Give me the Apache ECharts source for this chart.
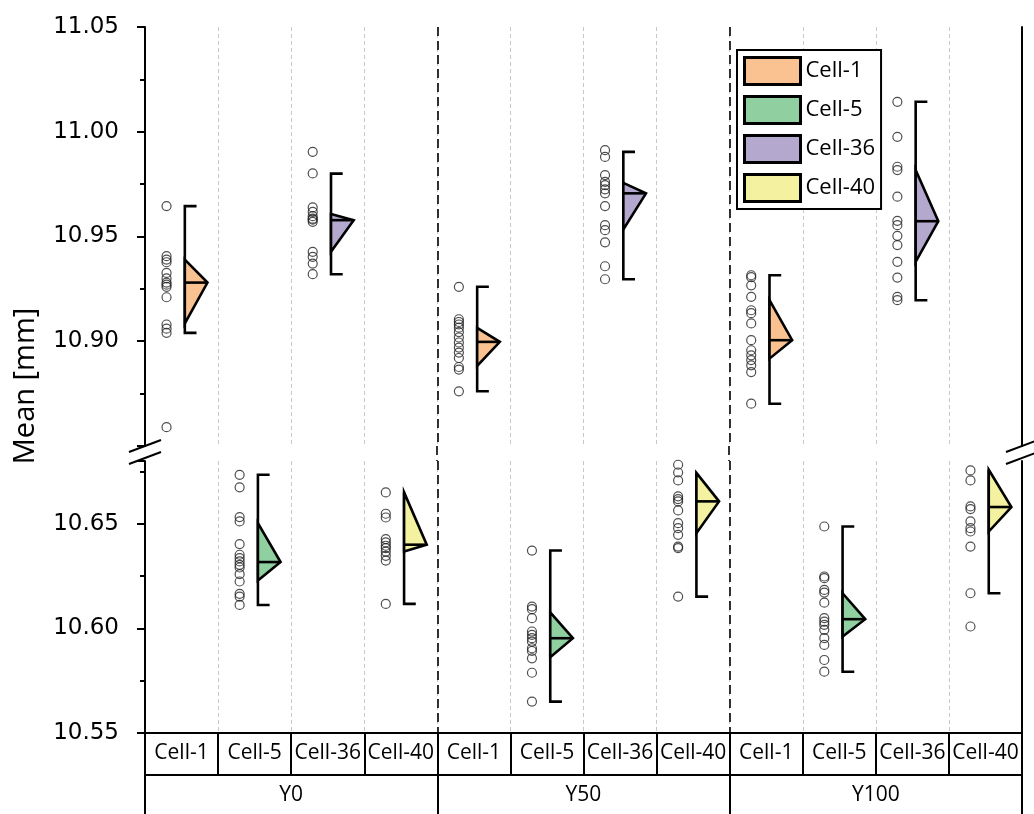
<!DOCTYPE html>
<html>
<head>
<meta charset="utf-8">
<title>Mean [mm]</title>
<script src="https://cdn.jsdelivr.net/npm/echarts@6.0.0/dist/echarts.min.js"></script>
<style>
    html, body { margin: 0; padding: 0; background: #fff; }
    #mean_chart { width: 1034px; height: 814px; }
</style>
</head>
<body>
<div id="mean_chart"></div>
<script>
// 分组 / 电芯
var groups = [ 'Y0', 'Y50', 'Y100' ];
var cells = [ 'Cell-1', 'Cell-5', 'Cell-36', 'Cell-40' ];
var categories = [ 'Cell-1', 'Cell-5', 'Cell-36', 'Cell-40', 'Cell-1', 'Cell-5', 'Cell-36', 'Cell-40', 'Cell-1', 'Cell-5', 'Cell-36', 'Cell-40' ];
var cellColors = [ '#FAC291', '#8FCFA0', '#B5A8CF', '#F4F1A0' ];

// 各次测量值 (Y0, Y50, Y100)
var cell1Points = [
    [ 10.9645, 10.9406, 10.9390, 10.9377, 10.9326, 10.9300, 10.9280, 10.9270, 10.9260, 10.9210, 10.9080, 10.9060, 10.9040, 10.8590 ],
    [ 10.9260, 10.9105, 10.9092, 10.9080, 10.9065, 10.9044, 10.9018, 10.8994, 10.8970, 10.8946, 10.8920, 10.8877, 10.8865, 10.8761 ],
    [ 10.9315, 10.9306, 10.9267, 10.9212, 10.9148, 10.9134, 10.9085, 10.9005, 10.8957, 10.8933, 10.8910, 10.8885, 10.8853, 10.8702 ]
];
var cell5Points = [
    [ 10.6734, 10.6674, 10.6532, 10.6511, 10.6403, 10.6352, 10.6336, 10.6320, 10.6304, 10.6291, 10.6259, 10.6224, 10.6165, 10.6152, 10.6112 ],
    [ 10.6372, 10.6104, 10.6092, 10.6049, 10.5985, 10.5969, 10.5953, 10.5937, 10.5905, 10.5892, 10.5857, 10.5788, 10.5650 ],
    [ 10.6487, 10.6248, 10.6240, 10.6184, 10.6171, 10.6123, 10.6049, 10.6032, 10.6017, 10.5993, 10.5953, 10.5921, 10.5849, 10.5793 ]
];
var cell36Points = [
    [ 10.9904, 10.9801, 10.9639, 10.9618, 10.9597, 10.9585, 10.9581, 10.9570, 10.9427, 10.9403, 10.9371, 10.9320 ],
    [ 10.9912, 10.9880, 10.9793, 10.9761, 10.9745, 10.9725, 10.9706, 10.9645, 10.9554, 10.9530, 10.9472, 10.9358, 10.9296 ],
    [ 11.0143, 10.9976, 10.9833, 10.9817, 10.9690, 10.9575, 10.9554, 10.9503, 10.9459, 10.9379, 10.9304, 10.9212, 10.9196 ]
];
var cell40Points = [
    [ 10.6650, 10.6548, 10.6530, 10.6427, 10.6411, 10.6395, 10.6384, 10.6367, 10.6347, 10.6324, 10.6117 ],
    [ 10.6782, 10.6745, 10.6707, 10.6631, 10.6618, 10.6607, 10.6564, 10.6503, 10.6479, 10.6447, 10.6391, 10.6384, 10.6152 ],
    [ 10.6755, 10.6707, 10.6583, 10.6570, 10.6511, 10.6479, 10.6463, 10.6391, 10.6168, 10.6009 ]
];

// 须线下限, 下边, 中线, 上边, 须线上限
var cell1Box = [
    [ 10.9040, 10.9085, 10.9280, 10.9390, 10.9645 ],
    [ 10.8761, 10.8882, 10.8997, 10.9064, 10.9260 ],
    [ 10.8702, 10.8917, 10.9005, 10.9196, 10.9315 ]
];
var cell5Box = [
    [ 10.6112, 10.6229, 10.6317, 10.6503, 10.6734 ],
    [ 10.5650, 10.5862, 10.5953, 10.6077, 10.6372 ],
    [ 10.5793, 10.5961, 10.6044, 10.6168, 10.6487 ]
];
var cell36Box = [
    [ 10.9320, 10.9427, 10.9578, 10.9607, 10.9800 ],
    [ 10.9296, 10.9534, 10.9706, 10.9756, 10.9904 ],
    [ 10.9196, 10.9379, 10.9573, 10.9817, 11.0143 ]
];
var cell40Box = [
    [ 10.6117, 10.6367, 10.6400, 10.6650, 10.6650 ],
    [ 10.6152, 10.6455, 10.6607, 10.6743, 10.6743 ],
    [ 10.6168, 10.6463, 10.6580, 10.6758, 10.6758 ]
];

// 简单的对象合并
var $ = {
    extend : function(a, b) {
        var o = {};
        for (var k in a) { o[k] = a[k]; }
        for (var j in b) { o[j] = b[j]; }
        return o;
    }
};

var mean_chart = {
    chart : null,
    /**
     * 页面初始化
     */
    init : function() {
        this.chart = echarts.init(document.getElementById('mean_chart'), null, { renderer : 'canvas' });
        this.draw();
    },
    /**
     * 散点数据 [类别序号, 值]
     */
    pointData : function(cellIdx, points) {
        var data = [];
        for (var g = 0; g < points.length; g++) {
            for (var i = 0; i < points[g].length; i++) {
                data.push([ g * cells.length + cellIdx, points[g][i] ]);
            }
        }
        return data;
    },
    /**
     * 三角箱数据 [类别序号, 下限, 下边, 中线, 上边, 上限]
     */
    boxData : function(cellIdx, box) {
        var data = [];
        for (var g = 0; g < box.length; g++) {
            data.push([ g * cells.length + cellIdx ].concat(box[g]));
        }
        return data;
    },
    /**
     * 三角箱 + 须线
     */
    renderBox : function(color) {
        return function(params, api) {
            var cat = api.value(0);
            var band = api.size([ 1, 0 ])[0];
            var x0 = api.coord([ cat, api.value(3) ])[0] + band * 0.045;
            var xCap = x0 + band * 0.16;
            var xTip = x0 + band * 0.31;
            var yLo = api.coord([ cat, api.value(1) ])[1];
            var yQ1 = api.coord([ cat, api.value(2) ])[1];
            var yMid = api.coord([ cat, api.value(3) ])[1];
            var yQ3 = api.coord([ cat, api.value(4) ])[1];
            var yHi = api.coord([ cat, api.value(5) ])[1];
            var whisker = [];
            if (api.value(5) > api.value(4)) {
                whisker.push([ xCap, yHi ]);
            }
            whisker.push([ x0, yHi ], [ x0, yLo ], [ xCap, yLo ]);
            var lineStyle = { stroke : '#000', lineWidth : 2.6, fill : null };
            return {
                type : 'group',
                children : [ {
                    type : 'polyline',
                    shape : { points : whisker },
                    style : lineStyle
                }, {
                    type : 'polygon',
                    shape : { points : [ [ x0, yQ3 ], [ xTip, yMid ], [ x0, yQ1 ] ] },
                    style : { fill : color, stroke : '#000', lineWidth : 2.6, lineJoin : 'miter' }
                }, {
                    type : 'line',
                    shape : { x1 : x0, y1 : yMid, x2 : xTip, y2 : yMid },
                    style : lineStyle
                } ]
            };
        };
    },
    draw : function() {
        var self = this;
        var labelFont = { fontFamily : 'DejaVu Sans', fontSize : 23, color : '#000' };
        var catFont = { fontFamily : 'Open Sans', fontSize : 21, color : '#000' };
        var gridLine = { show : true, interval : 0, lineStyle : { color : '#c8c8c8', type : [ 4, 3 ], width : 1 } };
        var groupLine = { show : true, interval : 0, lineStyle : { color : '#000', type : [ 9, 5 ], width : 1.6 } };
        var axisBlack = { show : true, lineStyle : { color : '#000', width : 2 } };

        var yLeft = function(gridIndex, min, max, hide) {
            return {
                type : 'value',
                gridIndex : gridIndex,
                position : 'left',
                min : min,
                max : max,
                interval : 0.05,
                axisLine : axisBlack,
                axisTick : { show : true, length : 8, lineStyle : { color : '#000', width : 2 } },
                minorTick : { show : true, splitNumber : 2, length : 5, lineStyle : { color : '#000', width : 2 } },
                splitLine : { show : false },
                axisLabel : $.extend({
                    margin : 26,
                    formatter : function(v) {
                        return hide(v) ? '' : v.toFixed(2);
                    }
                }, labelFont)
            };
        };
        var yRight = function(gridIndex, min, max) {
            return {
                type : 'value',
                gridIndex : gridIndex,
                position : 'right',
                min : min,
                max : max,
                interval : 0.05,
                axisLine : axisBlack,
                axisTick : { show : false },
                axisLabel : { show : false },
                splitLine : { show : false }
            };
        };

        var series = [];
        var allPoints = [ cell1Points, cell5Points, cell36Points, cell40Points ];
        var allBoxes = [ cell1Box, cell5Box, cell36Box, cell40Box ];
        // Cell-1 / Cell-36 在上半段, Cell-5 / Cell-40 在下半段
        var gridOf = [ 0, 1, 0, 1 ];
        for (var c = 0; c < cells.length; c++) {
            var gi = gridOf[c];
            series.push({
                name : cells[c],
                type : 'custom',
                xAxisIndex : gi * 2,
                yAxisIndex : gi * 2,
                itemStyle : { color : cellColors[c] },
                renderItem : self.renderBox(cellColors[c]),
                encode : { x : 0, y : [ 1, 2, 3, 4, 5 ] },
                data : self.boxData(c, allBoxes[c]),
                z : 3
            });
            series.push({
                name : cells[c] + ' points',
                type : 'scatter',
                xAxisIndex : gi * 2,
                yAxisIndex : gi * 2,
                symbol : 'circle',
                symbolSize : 9,
                symbolOffset : [ -15, 0 ],
                itemStyle : { color : 'rgba(0,0,0,0)', borderColor : '#222', borderWidth : 1.2 },
                emphasis : { disabled : true },
                data : self.pointData(c, allPoints[c]),
                z : 4
            });
        }

        var legendData = [];
        for (var k = 0; k < cells.length; k++) {
            legendData.push({
                name : cells[k],
                itemStyle : { color : cellColors[k], borderColor : '#000', borderWidth : 3 }
            });
        }

        // 断轴标记
        var breakMarks = [];
        var breakX = [ 145, 1022 ];
        var breakY = [ 446, 458 ];
        for (var bx = 0; bx < breakX.length; bx++) {
            for (var by = 0; by < breakY.length; by++) {
                breakMarks.push({
                    type : 'line',
                    shape : { x1 : breakX[bx] - 16, y1 : breakY[by] + 6, x2 : breakX[bx] + 16, y2 : breakY[by] - 6 },
                    style : { stroke : '#000', lineWidth : 2 },
                    z : 10
                });
            }
        }
        // 分组虚线穿过断轴间隙
        var gapLines = [];
        var gapX = [ 437, 729 ];
        for (var gx = 0; gx < gapX.length; gx++) {
            gapLines.push({
                type : 'line',
                shape : { x1 : gapX[gx], y1 : 446, x2 : gapX[gx], y2 : 461 },
                style : { stroke : '#000', lineWidth : 1.6, lineDash : [ 9, 5 ] },
                z : 1
            });
        }

        var option = {
            animation : false,
            backgroundColor : '#fff',
            grid : [ {
                left : 145,
                right : 12,
                top : 27,
                height : 419
            }, {
                left : 145,
                right : 12,
                top : 461,
                height : 272
            } ],
            legend : {
                orient : 'vertical',
                left : 737,
                top : 50,
                data : legendData,
                icon : 'rect',
                itemWidth : 56,
                itemHeight : 27,
                itemGap : 9,
                padding : [ 6, 6, 6, 6 ],
                backgroundColor : '#fff',
                borderColor : '#000',
                borderWidth : 2,
                borderRadius : 0,
                selectedMode : false,
                textStyle : { fontFamily : 'Open Sans', fontSize : 22, color : '#000' }
            },
            xAxis : [ {
                type : 'category',
                gridIndex : 0,
                data : categories,
                axisLine : { show : false },
                axisTick : { show : false },
                axisLabel : { show : false },
                splitLine : gridLine
            }, {
                type : 'category',
                gridIndex : 0,
                data : groups,
                axisLine : { show : false },
                axisTick : { show : false },
                axisLabel : { show : false },
                splitLine : groupLine
            }, {
                type : 'category',
                gridIndex : 1,
                position : 'bottom',
                data : categories,
                axisLine : axisBlack,
                axisTick : { show : true, interval : 0, length : 42, lineStyle : { color : '#000', width : 2 } },
                axisLabel : $.extend({ interval : 0, margin : 10 }, catFont),
                splitLine : gridLine
            }, {
                type : 'category',
                gridIndex : 1,
                position : 'bottom',
                offset : 42,
                data : groups,
                axisLine : axisBlack,
                axisTick : { show : true, interval : 0, length : 50, lineStyle : { color : '#000', width : 2 } },
                axisLabel : $.extend({ interval : 0, margin : 10 }, catFont),
                splitLine : groupLine
            } ],
            yAxis : [ yLeft(0, 10.85, 11.05, function(v) {
                return v < 10.87;
            }), yRight(0, 10.85, 11.05), yLeft(1, 10.55, 10.68, function(v) {
                return v > 10.66;
            }), yRight(1, 10.55, 10.68) ],
            graphic : breakMarks.concat(gapLines, [ {
                type : 'text',
                x : 26,
                y : 386,
                rotation : Math.PI / 2,
                style : {
                    text : 'Mean [mm]',
                    fontFamily : "'Liberation Sans Narrow', 'Open Sans'",
                    fontSize : 29,
                    fill : '#000',
                    align : 'center',
                    verticalAlign : 'middle'
                }
            } ]),
            series : series
        };
        this.chart.setOption(option);
    }
};

window.onload = function() {
    mean_chart.init();
};
</script>
</body>
</html>
